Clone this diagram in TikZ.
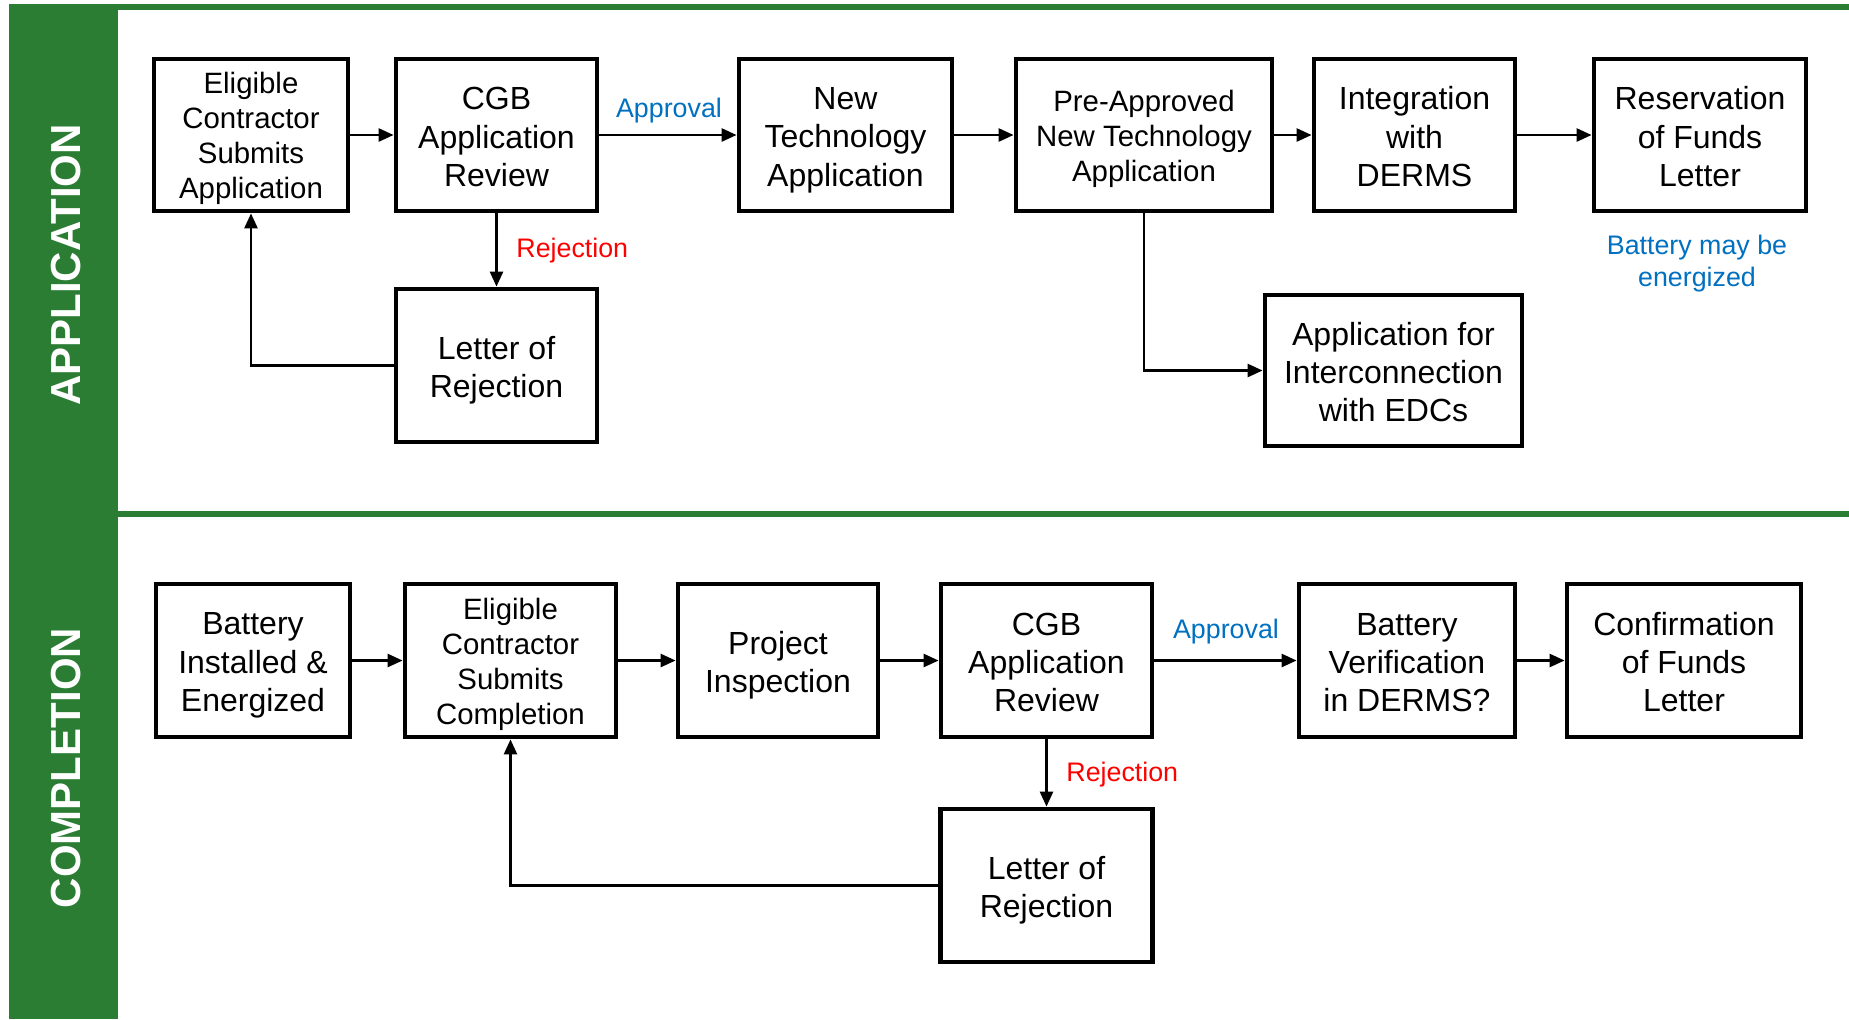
\documentclass[tikz,border=0pt]{standalone}
\usepackage{fontspec}
\setmainfont{Liberation Sans}
\usetikzlibrary{arrows.meta}
\definecolor{lanegreen}{RGB}{42,125,50}
\definecolor{apblue}{RGB}{0,112,192}
\definecolor{rejred}{RGB}{255,0,0}
\newcommand{\hb}{\rule{0pt}{16.2pt}}
\newcommand{\tb}{\rule[-3.2pt]{0pt}{3.2pt}}
\newcommand{\hsm}{\rule{0pt}{14.3pt}}
\newcommand{\tsm}{\rule[-3.3pt]{0pt}{3.3pt}}
\begin{document}
\begin{tikzpicture}[x=0.5pt,y=-0.5pt,
 box/.style={draw=black, line width=2.4pt, fill=white, align=center, inner sep=0pt},
 big/.style={font=\fontsize{16}{19.2}\selectfont},
 small/.style={font=\fontsize{14.7}{17.5}\selectfont},
 conn/.style={line width=1.3pt, -{Triangle[length=7.5pt,width=6.5pt]}},
 lbl/.style={font=\fontsize{13.4}{16}\selectfont, inner sep=0pt},
 lane/.style={font=\fontsize{21}{24}\selectfont\bfseries, text=white, rotate=90, inner sep=0pt}
]
\useasboundingbox (0,0) rectangle (1849,1019);
\fill[white] (0,0) rectangle (1849,1019);
\fill[lanegreen] (9,4) rectangle (118,1019);
\fill[lanegreen] (118,4) rectangle (1849,10);
\fill[lanegreen] (118,511) rectangle (1849,517);

\node[lane] (lapp) at (66,265) {APPLICATION};
\node[lane] (lcomp) at (66,768) {COMPLETION};

% Application row
\node[box, small, minimum width=97pt, minimum height=76pt] (a1) at (251,135) {\hsm Eligible\\Contractor\\Submits\\Application\tsm};
\node[box, big, minimum width=100.5pt, minimum height=76pt] (a2) at (496.5,135) {\hb CGB\\Application\\Review\tb};
\node[box, big, minimum width=106.5pt, minimum height=76pt] (a3) at (845.5,135) {\hb New\\Technology\\Application\tb};
\node[box, small, minimum width=128pt, minimum height=76pt] (a4) at (1144,135) {\hsm Pre-Approved\\New Technology\\Application\tsm};
\node[box, big, minimum width=100.5pt, minimum height=76pt] (a5) at (1414.5,135) {\hb Integration\\with\\DERMS\tb};
\node[box, big, minimum width=106pt, minimum height=76pt] (a6) at (1700,135) {\hb Reservation\\of Funds\\Letter\tb};
\node[box, big, minimum width=100.5pt, minimum height=76.5pt] (a7) at (496.5,365.5) {\hb Letter of\\Rejection\tb};
\node[box, big, minimum width=128.5pt, minimum height=75.5pt] (a8) at (1393.5,370.5) {\hb Application for\\Interconnection\\with EDCs\tb};

\draw[conn] (a1.east) -- (a2.west);
\draw[conn] (a2.east) -- (a3.west);
\draw[conn] (a3.east) -- (a4.west);
\draw[conn] (a4.east) -- (a5.west);
\draw[conn] (a5.east) -- (a6.west);
\draw[conn] (a2.south) -- (a7.north);
\draw[conn] (a7.west) -| (a1.south);
\draw[conn] (a4.south) |- (a8.west);

\node[lbl, text=apblue] (ap1) at (669,110.5) {Approval};
\node[lbl, text=rejred, anchor=west] (rj1) at (516,250.5) {Rejection};
\node[lbl, text=apblue, align=center] (bat) at (1697,263.5) {Battery may be\\energized};

% Completion row
\node[box, big, minimum width=97pt, minimum height=76.5pt] (b1) at (253,660.5) {\hb Battery\\Installed \&\\Energized\tb};
\node[box, small, minimum width=105.5pt, minimum height=76.5pt] (b2) at (510.5,660.5) {\hsm Eligible\\Contractor\\Submits\\Completion\tsm};
\node[box, big, minimum width=100pt, minimum height=76.5pt] (b3) at (778,660.5) {\hb Project\\Inspection\tb};
\node[box, big, minimum width=105.5pt, minimum height=76.5pt] (b4) at (1046.5,660.5) {\hb CGB\\Application\\Review\tb};
\node[box, big, minimum width=108pt, minimum height=76.5pt] (b5) at (1407,660.5) {\hb Battery\\Verification\\in DERMS?\tb};
\node[box, big, minimum width=117pt, minimum height=76.5pt] (b6) at (1684,660.5) {\hb Confirmation\\of Funds\\Letter\tb};
\node[box, big, minimum width=106pt, minimum height=76.5pt] (b7) at (1046.5,885.5) {\hb Letter of\\Rejection\tb};

\draw[conn] (b1.east) -- (b2.west);
\draw[conn] (b2.east) -- (b3.west);
\draw[conn] (b3.east) -- (b4.west);
\draw[conn] (b4.east) -- (b5.west);
\draw[conn] (b5.east) -- (b6.west);
\draw[conn] (b4.south) -- (b7.north);
\draw[conn] (b7.west) -| (b2.south);

\node[lbl, text=apblue] (ap2) at (1226,631.5) {Approval};
\node[lbl, text=rejred, anchor=west] (rj2) at (1066,775) {Rejection};
\end{tikzpicture}
\end{document}
